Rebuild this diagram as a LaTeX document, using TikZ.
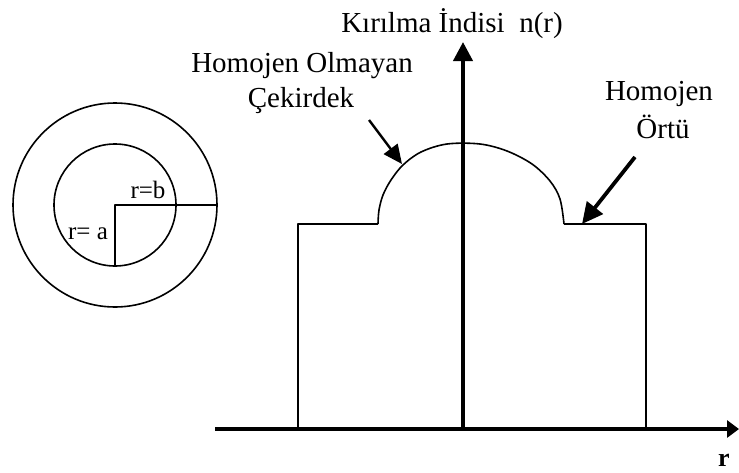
\documentclass[tikz,border=0pt]{standalone}
\usepackage{fontspec}
\setmainfont{Liberation Serif}
\usetikzlibrary{arrows.meta}
\begin{document}
\begin{tikzpicture}[x=1pt,y=-1pt,
  lbl/.style={font=\fontsize{29}{34}\selectfont, anchor=base, inner sep=0pt},
  smalllbl/.style={font=\fontsize{25}{29}\selectfont, anchor=base, inner sep=0pt},
  thinline/.style={line width=1.6pt, line join=round},
  axisline/.style={line width=4pt},
  pointer/.style={line width=2.4pt, -{Triangle[length=19pt 0 0,width=17pt 0 0]}},
  bigpointer/.style={line width=3.8pt, -{Triangle[length=21pt 0 0,width=20pt 0 0]}}]
\useasboundingbox (0,0) rectangle (739,472);
% cross-section circles
\coordinate (c) at (115,205);
\coordinate (rb) at (217,205);
\coordinate (ra) at (115,266);
\draw[thinline] (c) circle[radius=102pt];
\draw[thinline] (c) circle[radius=61pt];
\draw[thinline] (rb) -- (c) -- (ra);
\node[smalllbl] (lb) at (148,198) {r=b};
\node[smalllbl] (la) at (88,239) {r= a};
% axes
\coordinate (xo) at (215,429);
\coordinate (xe) at (739,429);
\coordinate (yo) at (463,429);
\coordinate (ye) at (463,42);
\draw[axisline, -{Triangle[length=12pt 0 0,width=17pt 0 0]}] (xo) -- (xe);
\draw[axisline, -{Triangle[length=19pt 0 0,width=19pt 0 0]}] (yo) -- (ye);
% profile
\coordinate (s1) at (298,429);
\coordinate (s2) at (298,224);
\coordinate (s3) at (378,224);
\coordinate (s4) at (564,224);
\coordinate (s5) at (646,224);
\coordinate (s6) at (646,429);
\draw[thinline] (s1) -- (s2) -- (s3);
\draw[thinline] plot[smooth, tension=0.55] coordinates {(378,224) (379,210) (383,195) (391,180) (403,165) (421,152) (447,144) (480,144) (507,151) (532,164) (550,181) (560,199) (564,224)};
\draw[thinline] (s4) -- (s5) -- (s6);
% labels
\node[lbl] (t) at (452,32) {Kırılma İndisi\ \ n(r)};
\node[lbl] (h1) at (302,72) {Homojen Olmayan};
\node[lbl] (h2) at (301,107) {Çekirdek};
\node[lbl] (h3) at (659,100) {Homojen};
\node[lbl] (h4) at (663,138) {Örtü};
\node[font=\fontsize{26}{30}\selectfont\bfseries, anchor=base, inner sep=0pt] (rl) at (724,466) {r};
% pointers
\coordinate (a1s) at (369,120);
\coordinate (a1e) at (402,164);
\coordinate (a2s) at (635,157);
\coordinate (a2e) at (582,224);
\draw[pointer] (a1s) -- (a1e);
\draw[bigpointer] (a2s) -- (a2e);
\end{tikzpicture}
\end{document}
